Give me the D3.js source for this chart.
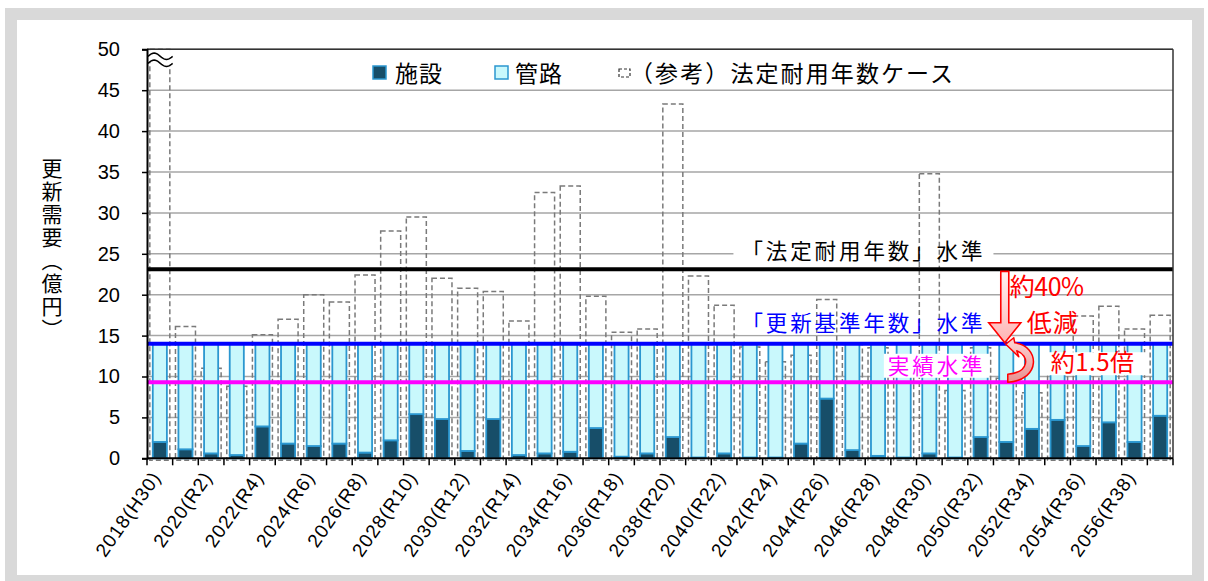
<!DOCTYPE html>
<html>
<head>
<meta charset="utf-8">
<script src="https://cdn.jsdelivr.net/npm/d3@7"></script>
<style>
  body { margin: 0; background: #fff; }
  text { font-family: "Liberation Sans", "Noto Sans CJK JP", sans-serif; }
  .jp { font-family: "Noto Sans CJK JP", "Noto Sans", sans-serif; }
</style>
</head>
<body>
<svg id="chart" width="1208" height="581"></svg>
<script>
// ---- data ----
const years = [2018, 2019, 2020, 2021, 2022, 2023, 2024, 2025, 2026, 2027,
               2028, 2029, 2030, 2031, 2032, 2033, 2034, 2035, 2036, 2037,
               2038, 2039, 2040, 2041, 2042, 2043, 2044, 2045, 2046, 2047,
               2048, 2049, 2050, 2051, 2052, 2053, 2054, 2055, 2056, 2057];

// 施設 (facilities), 億円
const shisetsu = [2.0, 1.1, 0.6, 0.4, 3.9, 1.8, 1.5, 1.8, 0.7, 2.2,
                  5.4, 4.8, 0.9, 4.8, 0.4, 0.6, 0.8, 3.7, 0.2, 0.6,
                  2.6, 0.1, 0.6, 0.1, 0.1, 1.8, 7.3, 1.0, 0.3, 0.1,
                  0.6, 0.1, 2.6, 2.0, 3.6, 4.7, 1.5, 4.4, 2.0, 5.2];

// 管路 (pipelines), 億円
const kanro = [12.0, 12.9, 13.4, 13.6, 10.1, 12.2, 12.5, 12.2, 13.3, 11.8,
               8.6, 9.2, 13.1, 9.2, 13.6, 13.4, 13.2, 10.3, 13.8, 13.4,
               11.4, 13.9, 13.4, 13.9, 13.9, 12.2, 6.7, 13.0, 13.7, 13.9,
               13.4, 13.9, 11.4, 12.0, 10.4, 9.3, 12.5, 9.6, 12.0, 8.8];

// （参考）法定耐用年数ケース, 億円 (2018 runs off the top of the axis)
const legalLife = [60.0, 16.1, 11.0, 8.8, 15.1, 17.0, 20.0, 19.1, 22.4, 27.8,
                   29.5, 22.0, 20.8, 20.4, 16.8, 32.5, 33.3, 19.8, 15.4, 15.8,
                   43.3, 22.3, 18.7, 13.6, 11.8, 12.6, 19.4, 13.9, 13.5, 11.5,
                   34.8, 8.3, 13.5, 9.8, 8.0, 11.5, 17.4, 18.6, 15.8, 17.5];

const axisLabels = ["2018(H30)", "2020(R2)", "2022(R4)", "2024(R6)", "2026(R8)",
                    "2028(R10)", "2030(R12)", "2032(R14)", "2034(R16)", "2036(R18)",
                    "2038(R20)", "2040(R22)", "2042(R24)", "2044(R26)", "2046(R28)",
                    "2048(R30)", "2050(R32)", "2052(R34)", "2054(R36)", "2056(R38)"];

const yTicks = [0, 5, 10, 15, 20, 25, 30, 35, 40, 45, 50];

const levelValues = [23.1, 14.0, 9.3];
const levelLabels = ["「法定耐用年数」水準", "「更新基準年数」水準", "実績水準"];

const seriesNames = ["施設", "管路", "（参考）法定耐用年数ケース"];

// ---- layout ----
const svg = d3.select("#chart");
const W = 1208, H = 581;
const plot = { left: 147, right: 1173, top: 49.3, bottom: 458.3 };

const x = d3.scaleBand().domain(years).range([plot.left, plot.right]).padding(0);
const y = d3.scaleLinear().domain([0, 50]).range([plot.bottom, plot.top]);
const bw = x.bandwidth();

const C = {
  shisetsu: "#174e69",
  kanro: "#c9f8fc",
  barStroke: "#2b97d0",
  dash: "#7a7a7a",
  grid: "#a6a6a6",
  black: "#000000",
  blue: "#0000ff",
  magenta: "#ff00ff",
  red: "#ff0000"
};

// outer frame
svg.append("rect").attr("width", W).attr("height", H).attr("fill", "#fff");
svg.append("rect")
  .attr("x", 11).attr("y", 14).attr("width", 1187).attr("height", 567)
  .attr("fill", "#fff").attr("stroke", "#d9d9d9").attr("stroke-width", 12);

// gridlines
svg.append("g").selectAll("line").data(yTicks.filter(d => d > 0)).join("line")
  .attr("x1", plot.left).attr("x2", plot.right)
  .attr("y1", d => y(d)).attr("y2", d => y(d))
  .attr("stroke", C.grid).attr("stroke-width", 1.5);

// label backgrounds for the two upper level captions (they sit under the bars)
const capBoxes = svg.append("g");

// dashed outline bars: statutory service-life case
const dashW = bw * 0.78;
svg.append("g").selectAll("rect").data(years).join("rect")
  .attr("x", d => x(d) + (bw - dashW) / 2)
  .attr("width", dashW)
  .attr("y", (d, i) => y(Math.min(legalLife[i], 50)))
  .attr("height", (d, i) => y(0) - y(Math.min(legalLife[i], 50)) + 2)
  .attr("fill", "none")
  .attr("stroke", C.dash).attr("stroke-width", 1.5)
  .attr("stroke-dasharray", "5,3");

// stacked bars: 施設 + 管路
const stackData = years.map((yr, i) => ({ year: yr, shisetsu: shisetsu[i], kanro: kanro[i] }));
const stacked = d3.stack().keys(["shisetsu", "kanro"])(stackData);
const barW = bw * 0.55;
svg.append("g").selectAll("g").data(stacked).join("g")
  .attr("fill", s => C[s.key])
  .selectAll("rect").data(s => s).join("rect")
  .attr("x", d => x(d.data.year) + (bw - barW) / 2)
  .attr("width", barW)
  .attr("y", d => y(d[1]))
  .attr("height", d => y(d[0]) - y(d[1]))
  .attr("stroke", C.barStroke).attr("stroke-width", 1.8);

// break mark on the first (off-scale) bar
{
  const x0 = plot.left + 1, x1 = x(years[0]) + bw;
  const top = y(50);
  const wave = (yy) => d3.range(0, 1.0001, 0.05)
    .map(t => [x0 + t * (x1 - x0), yy - 3.2 * Math.sin(t * 2 * Math.PI)]);
  const w1 = wave(top + 7), w2 = wave(top + 14);
  const line = d3.line();
  const area = [[x0, top + 1], [x1, top + 1]].concat(w2.slice().reverse());
  svg.append("path").attr("d", line(area) + "Z").attr("fill", "#fff");
  svg.append("path").attr("d", line(w1)).attr("fill", "none").attr("stroke", "#000").attr("stroke-width", 1.5);
  svg.append("path").attr("d", line(w2)).attr("fill", "none").attr("stroke", "#000").attr("stroke-width", 1.5);
}

// level lines
const levelColors = [C.black, C.blue, C.magenta];
svg.append("g").selectAll("line").data(levelValues).join("line")
  .attr("x1", plot.left).attr("x2", plot.right)
  .attr("y1", d => y(d)).attr("y2", d => y(d))
  .attr("stroke", (d, i) => levelColors[i]).attr("stroke-width", 4);

// plot frame and axes
svg.append("line").attr("x1", plot.left).attr("x2", plot.right).attr("y1", plot.top).attr("y2", plot.top)
  .attr("stroke", "#333").attr("stroke-width", 1.5);
svg.append("line").attr("x1", plot.right).attr("x2", plot.right).attr("y1", plot.top).attr("y2", plot.bottom)
  .attr("stroke", "#333").attr("stroke-width", 1.5);

const yAxis = svg.append("g").attr("transform", `translate(${plot.left},0)`)
  .call(d3.axisLeft(y).tickValues(yTicks).tickSize(5).tickPadding(22));
yAxis.select(".domain").attr("stroke", "#000").attr("stroke-width", 2);
yAxis.selectAll(".tick line").attr("stroke", "#000").attr("stroke-width", 1.5);
yAxis.selectAll(".tick text").attr("font-size", 20).attr("fill", "#000")
  .attr("font-family", "Liberation Sans, Arial, sans-serif");

// x axis: ticks at every category boundary
const xg = svg.append("g");
xg.append("line").attr("x1", plot.left).attr("x2", plot.right)
  .attr("y1", plot.bottom).attr("y2", plot.bottom).attr("stroke", "#000").attr("stroke-width", 2);
xg.selectAll("line.tk").data(years.concat([null])).join("line").attr("class", "tk")
  .attr("x1", (d, i) => plot.left + i * bw).attr("x2", (d, i) => plot.left + i * bw)
  .attr("y1", plot.bottom).attr("y2", plot.bottom + 7)
  .attr("stroke", "#000").attr("stroke-width", 1.5);
const labelled = years.filter((d, i) => i % 2 === 0);
xg.selectAll("text").data(labelled).join("text")
  .attr("transform", d => `translate(${x(d) + bw / 2 + 2},${plot.bottom + 19}) rotate(-55)`)
  .attr("text-anchor", "end")
  .attr("font-size", 19)
  .attr("letter-spacing", 1)
  .attr("fill", "#000")
  .text((d, i) => axisLabels[i]);

// y axis title (vertical)
svg.append("text").attr("class", "jp")
  .attr("x", 52).attr("y", 158)
  .style("writing-mode", "vertical-rl")
  .attr("font-size", 21).attr("letter-spacing", 2)
  .attr("fill", "#000")
  .text("更新需要（億円）");

// legend
{
  const lg = svg.append("g").attr("class", "jp");
  const ly = 73;
  lg.append("rect").attr("x", 373).attr("y", ly - 7).attr("width", 13).attr("height", 13)
    .attr("fill", C.shisetsu).attr("stroke", C.barStroke).attr("stroke-width", 1.5);
  lg.append("text").attr("x", 395).attr("y", ly + 8.5).attr("font-size", 23).attr("letter-spacing", 1)
    .text(seriesNames[0]);
  lg.append("rect").attr("x", 495).attr("y", ly - 7).attr("width", 13).attr("height", 13)
    .attr("fill", C.kanro).attr("stroke", C.barStroke).attr("stroke-width", 1.5);
  lg.append("text").attr("x", 515).attr("y", ly + 8.5).attr("font-size", 23).attr("letter-spacing", 1)
    .text(seriesNames[1]);
  lg.append("rect").attr("x", 619).attr("y", ly - 4).attr("width", 11).attr("height", 8)
    .attr("fill", "none").attr("stroke", "#333").attr("stroke-width", 1.2).attr("stroke-dasharray", "3,2");
  lg.append("text").attr("x", 630).attr("y", ly + 8.5).attr("font-size", 23).attr("letter-spacing", 2.1)
    .text(seriesNames[2]);
}

// level captions
const capRight = x(years[33]) - 8;
const captionFont = 21.5, capSpacing = 2.9;
function caption(text, yCenter, color, layer, pad) {
  const t = svg.append("text").attr("class", "jp")
    .attr("x", capRight).attr("y", yCenter + captionFont * 0.36)
    .attr("text-anchor", "end").attr("font-size", captionFont)
    .attr("letter-spacing", capSpacing)
    .attr("fill", color).text(text);
  const bb = t.node().getBBox();
  layer.insert("rect", ":first-child")
    .attr("x", bb.x - pad).attr("y", yCenter - 12).attr("width", bb.width + pad * 2).attr("height", 24)
    .attr("fill", "#fff");
  return t;
}
caption(levelLabels[0], y(levelValues[0]) + 0.8 - 19, C.black, capBoxes, 8);
caption(levelLabels[1], y(levelValues[1]) - 21, C.blue, capBoxes, 4);

// "実績水準" caption sits on top of the bars
const topBoxes = svg.append("g");
caption(levelLabels[2], y(levelValues[1]) + 22, C.magenta, topBoxes, 4);

// annotation: reduction arrow from 法定耐用年数 level down to 更新基準年数 level
{
  const ax = x(years[33]) + bw / 2 - 1.5;
  const yTop = y(levelValues[0]) + 2, yTip = y(levelValues[1]) - 1;
  const shaft = 4, head = 16, headLen = 20;
  const pts = [
    [ax - shaft, yTop], [ax + shaft, yTop], [ax + shaft, yTip - headLen],
    [ax + head, yTip - headLen], [ax, yTip], [ax - head, yTip - headLen],
    [ax - shaft, yTip - headLen]
  ];
  const grad = svg.append("defs").append("linearGradient").attr("id", "pinkDown")
    .attr("x1", 0).attr("x2", 0).attr("y1", 0).attr("y2", 1);
  grad.append("stop").attr("offset", "0%").attr("stop-color", "#fff4f4");
  grad.append("stop").attr("offset", "100%").attr("stop-color", "#ffb3b3");
  svg.append("path").attr("d", d3.line()(pts) + "Z")
    .attr("fill", "url(#pinkDown)").attr("stroke", C.red).attr("stroke-width", 1.6)
    .attr("stroke-linejoin", "miter");

  svg.append("text").attr("class", "jp").attr("x", ax + 5).attr("y", y(levelValues[0]) + 27)
    .attr("font-size", 25).attr("fill", C.red).attr("letter-spacing", -0.5).text("約40%");
  svg.append("text").attr("class", "jp").attr("x", ax + 22).attr("y", y(levelValues[1]) - 12)
    .attr("font-size", 25).attr("fill", C.red).attr("letter-spacing", 1).text("低減");

  // curved arrow from 実績水準 up to 更新基準年数 level
  const tY = y(levelValues[1]), bY = y(levelValues[2]);
  const tx = ax + 1;
  const p = d3.path();
  p.moveTo(tx, tY + 0.5);
  p.lineTo(tx + 8, tY - 6);
  p.lineTo(tx + 9, tY - 1);
  p.bezierCurveTo(tx + 34, tY + 2, tx + 36, bY - 2, tx + 2, bY);
  p.lineTo(tx + 2, bY - 8);
  p.bezierCurveTo(tx + 24, bY - 10, tx + 24, tY + 12, tx + 11, tY + 7);
  p.lineTo(tx + 13, tY + 13);
  p.closePath();
  const g2 = svg.select("defs").append("linearGradient").attr("id", "pinkCurve")
    .attr("x1", 0).attr("x2", 0).attr("y1", 0).attr("y2", 1);
  g2.append("stop").attr("offset", "0%").attr("stop-color", "#ffd6d6");
  g2.append("stop").attr("offset", "100%").attr("stop-color", "#e89090");
  svg.append("path").attr("d", p.toString())
    .attr("fill", "url(#pinkCurve)").attr("stroke", C.red).attr("stroke-width", 1.5)
    .attr("stroke-linejoin", "round");

  // "約1.5倍" with its white box
  const t = svg.append("text").attr("class", "jp")
    .attr("x", ax + 46).attr("y", bY - 11)
    .attr("font-size", 24).attr("fill", C.red).attr("letter-spacing", 0.5).text("約1.5倍");
  const bb = t.node().getBBox();
  svg.insert("rect", () => t.node())
    .attr("x", bb.x - 5).attr("y", bY - 30).attr("width", bb.width + 18).attr("height", 23)
    .attr("fill", "#fff");
}
</script>
</body>
</html>
